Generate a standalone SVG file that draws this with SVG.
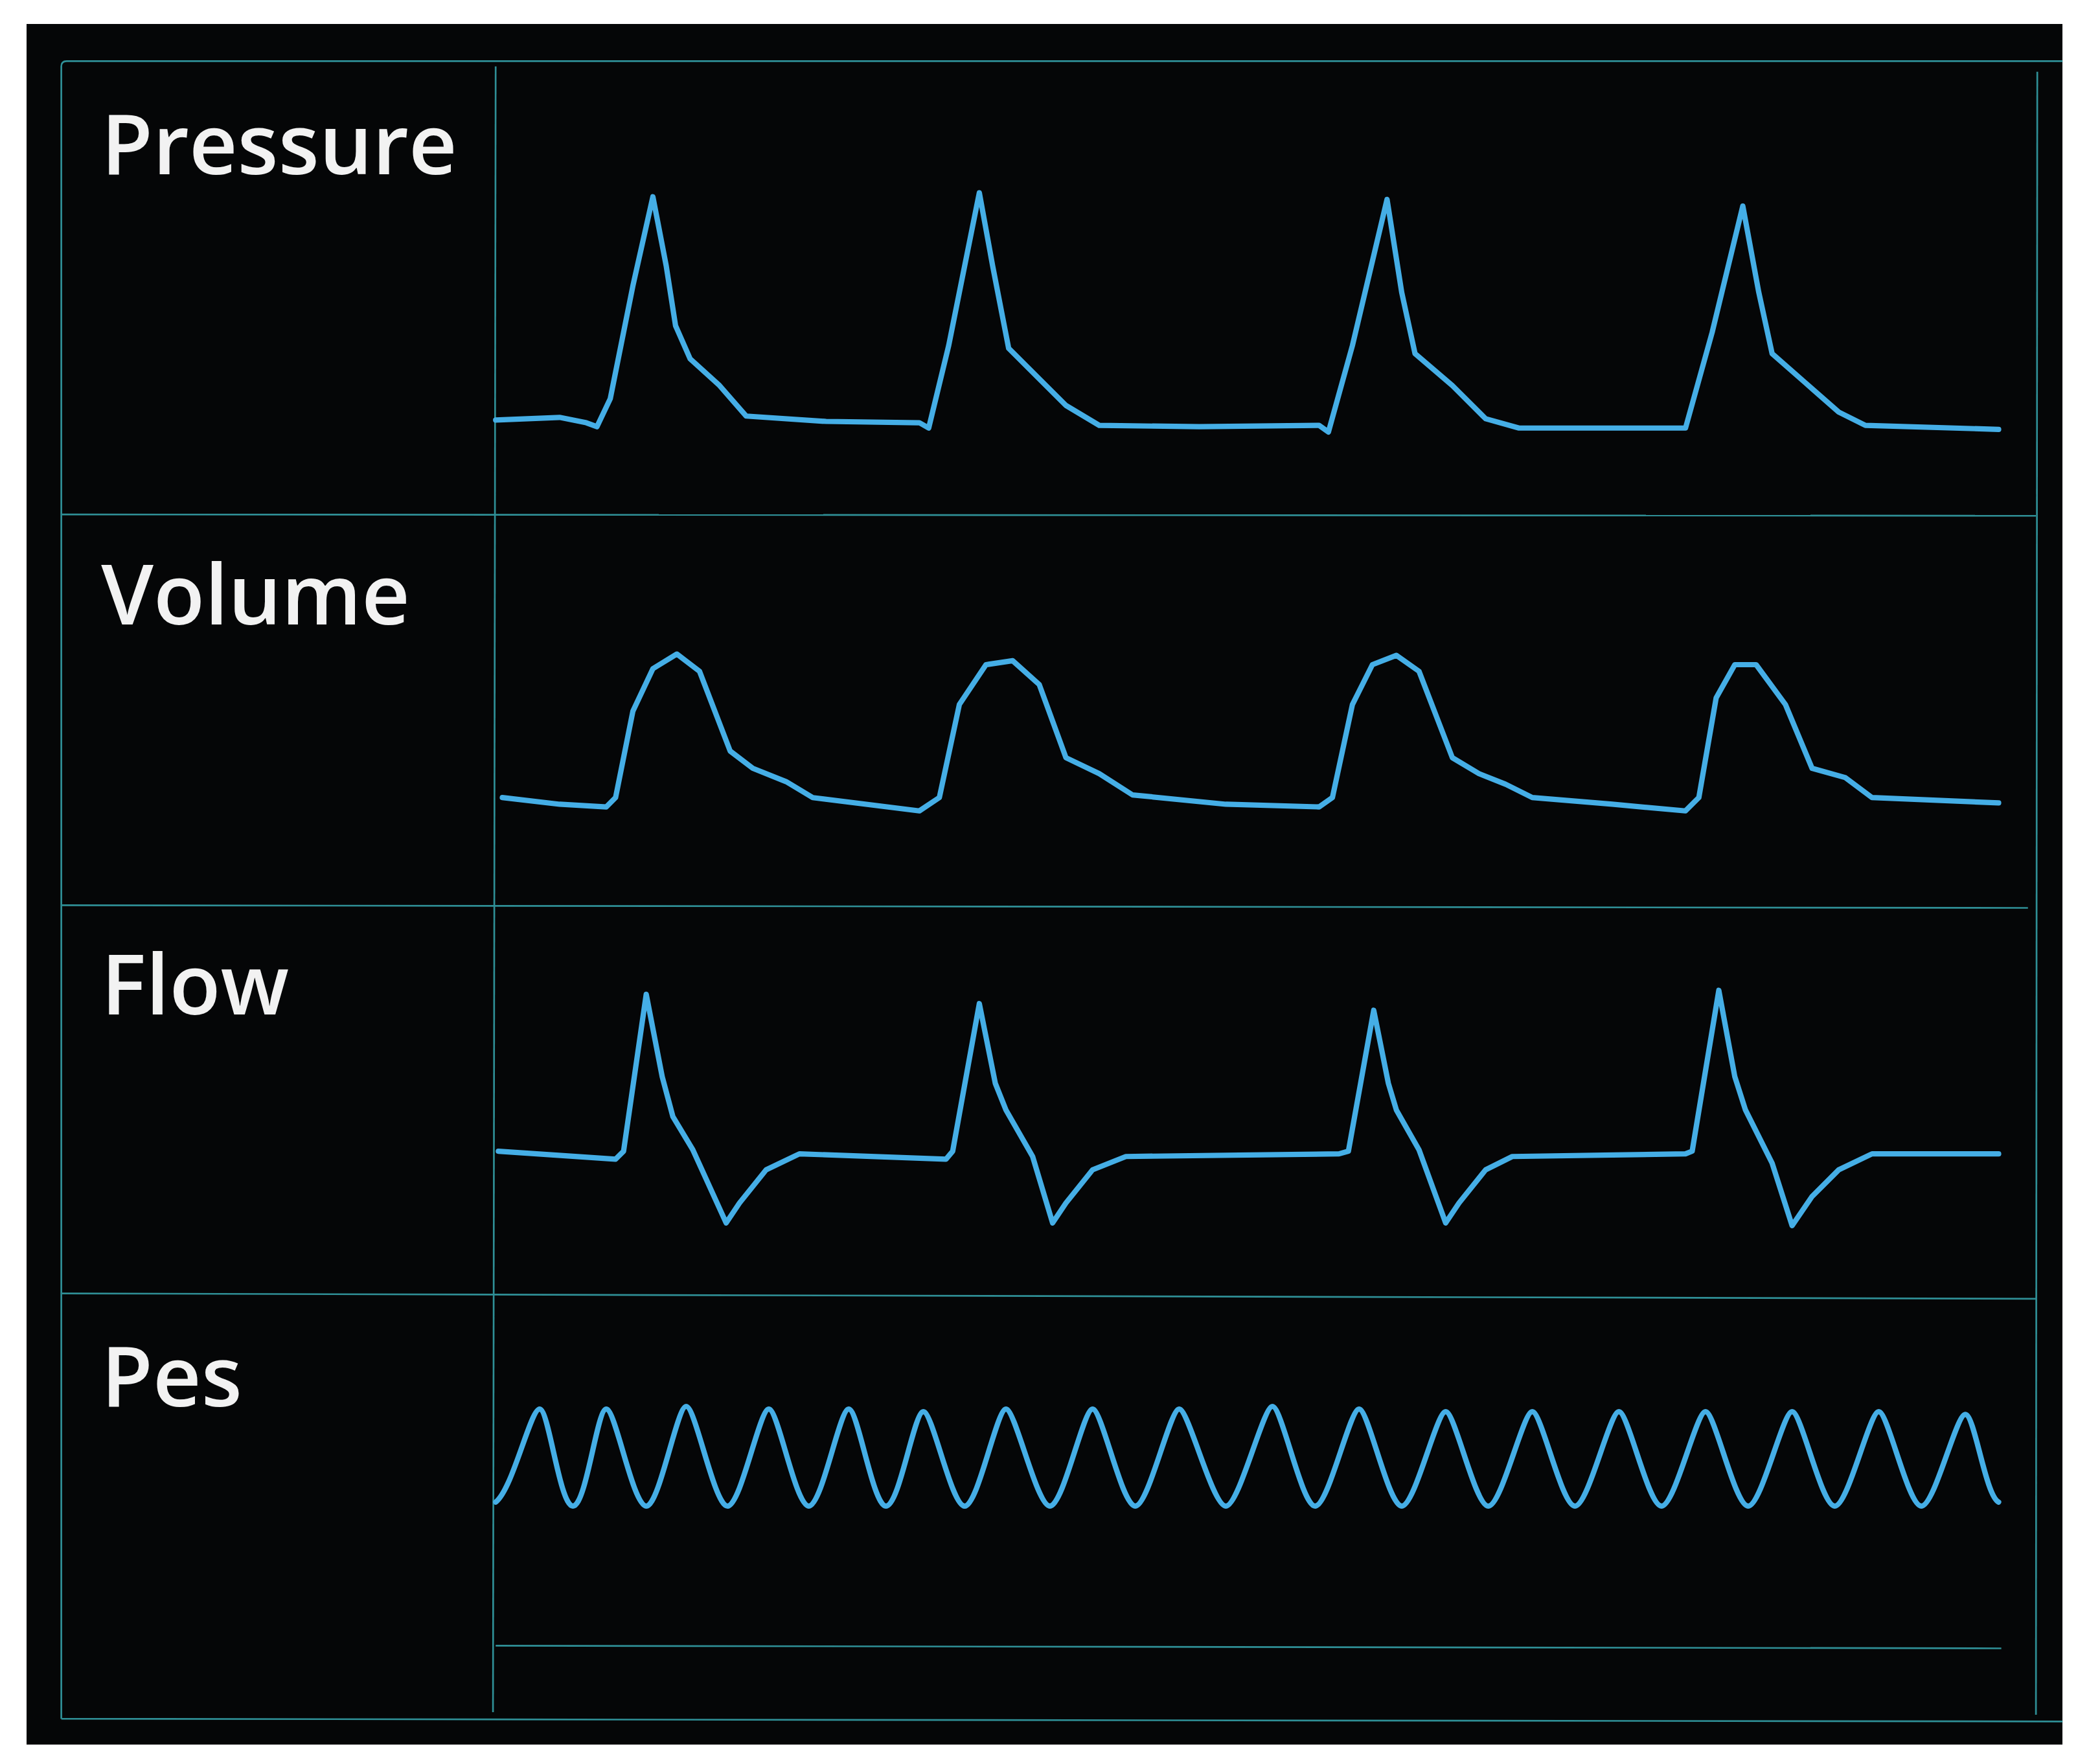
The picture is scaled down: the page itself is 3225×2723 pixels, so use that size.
<svg xmlns="http://www.w3.org/2000/svg" width="3225" height="2723" viewBox="0 0 3225 2723">
<style>
.grid{stroke:#2f8f96;stroke-width:1.3;fill:none}
.wave{stroke:#45aee6;stroke-width:4;fill:none;stroke-linejoin:round;stroke-linecap:round}
.lbl{font-family:"Open Sans","Noto Sans",sans-serif;font-weight:600;font-size:63px;fill:#f2f2f2}
</style>
<rect width="3225" height="2723" fill="#ffffff"/>
<rect x="41" y="37" width="3143" height="2656" fill="#050607"/>
<g transform="scale(2.057,2.052)">
<g id="gridlines">
<path class="grid" d="M46,1293 V50 Q46,46 50,46 H1548"/>
<line class="grid" x1="372" y1="50" x2="370" y2="1288"/>
<line class="grid" x1="46" y1="387" x2="1528" y2="388"/>
<line class="grid" x1="46" y1="681" x2="1522" y2="683"/>
<line class="grid" x1="46" y1="973" x2="1528" y2="977"/>
<line class="grid" x1="46" y1="1293" x2="1548" y2="1295"/>
<line class="grid" x1="1529" y1="54" x2="1528" y2="1290"/>
<line class="grid" x1="372" y1="1238" x2="1502" y2="1240"/>
</g>
<g id="pressure">
<text class="lbl" x="76" y="131">Pressure</text>
<path class="wave" d="M372,316 L420,314 L440,318 L448,321 L458,300 L475,215 L490,148 L500,200 L507,245 L518,270 L540,290 L560,313 L620,317 L690,318 L697,322 L712,260 L735,145 L745,200 L757,262 L780,285 L800,305 L825,320 L900,321 L990,320 L997,325 L1015,260 L1041,150 L1052,220 L1062,266 L1090,290 L1115,315 L1140,322 L1265,322 L1285,250 L1308,155 L1320,220 L1330,266 L1355,288 L1380,310 L1400,320 L1500,323"/>
</g>
<g id="volume">
<text class="lbl" x="76" y="470">Volume</text>
<path class="wave" d="M377,600 L420,605 L455,607 L462,600 L475,535 L490,503 L508,492 L525,505 L548,565 L565,578 L590,588 L610,600 L690,610 L705,600 L720,530 L740,500 L760,497 L780,515 L800,570 L825,582 L850,598 L920,605 L990,607 L1000,600 L1015,530 L1030,500 L1048,493 L1065,505 L1090,570 L1110,582 L1130,590 L1150,600 L1210,605 L1265,610 L1275,600 L1288,525 L1302,500 L1318,500 L1340,530 L1360,578 L1385,585 L1405,600 L1500,604"/>
</g>
<g id="flow">
<text class="lbl" x="76" y="763">Flow</text>
<path class="wave" d="M374,866 L462,872 L468,866 L485,748 L497,810 L505,840 L520,865 L545,920 L555,905 L575,880 L600,868 L710,872 L715,866 L735,755 L747,815 L755,835 L775,870 L790,920 L800,905 L820,880 L845,870 L1005,868 L1012,866 L1031,760 L1042,815 L1048,835 L1065,865 L1085,920 L1095,905 L1115,880 L1135,870 L1265,868 L1270,866 L1290,745 L1302,810 L1310,835 L1330,875 L1345,922 L1360,900 L1380,880 L1405,868 L1500,868"/>
</g>
<g id="pes">
<text class="lbl" x="76" y="1058">Pes</text>
<path class="wave" d="M372,1130 C385,1120 398,1060 405,1060 C412,1060 420,1133 430,1133 C440,1133 448,1060 455,1060 C462,1060 475,1133 485,1133 C495,1133 508,1058 515,1058 C522,1058 536,1133 546,1133 C556,1133 570,1060 577,1060 C584,1060 597,1133 607,1133 C617,1133 630,1060 637,1060 C644,1060 655,1133 665,1133 C675,1133 686,1062 693,1062 C700,1062 714,1133 724,1133 C734,1133 748,1060 755,1060 C762,1060 778,1133 788,1133 C798,1133 813,1060 820,1060 C827,1060 842,1133 852,1133 C862,1133 878,1060 885,1060 C892,1060 910,1133 920,1133 C930,1133 948,1058 955,1058 C962,1058 977,1133 987,1133 C997,1133 1013,1060 1020,1060 C1027,1060 1042,1133 1052,1133 C1062,1133 1078,1062 1085,1062 C1092,1062 1107,1133 1117,1133 C1127,1133 1143,1062 1150,1062 C1157,1062 1172,1133 1182,1133 C1192,1133 1208,1062 1215,1062 C1222,1062 1237,1133 1247,1133 C1257,1133 1273,1062 1280,1062 C1287,1062 1302,1133 1312,1133 C1322,1133 1338,1062 1345,1062 C1352,1062 1367,1133 1377,1133 C1387,1133 1403,1062 1410,1062 C1417,1062 1432,1133 1442,1133 C1452,1133 1468,1064 1475,1064 C1482,1064 1490,1125 1500,1130"/>
</g>
</g>
</svg>
